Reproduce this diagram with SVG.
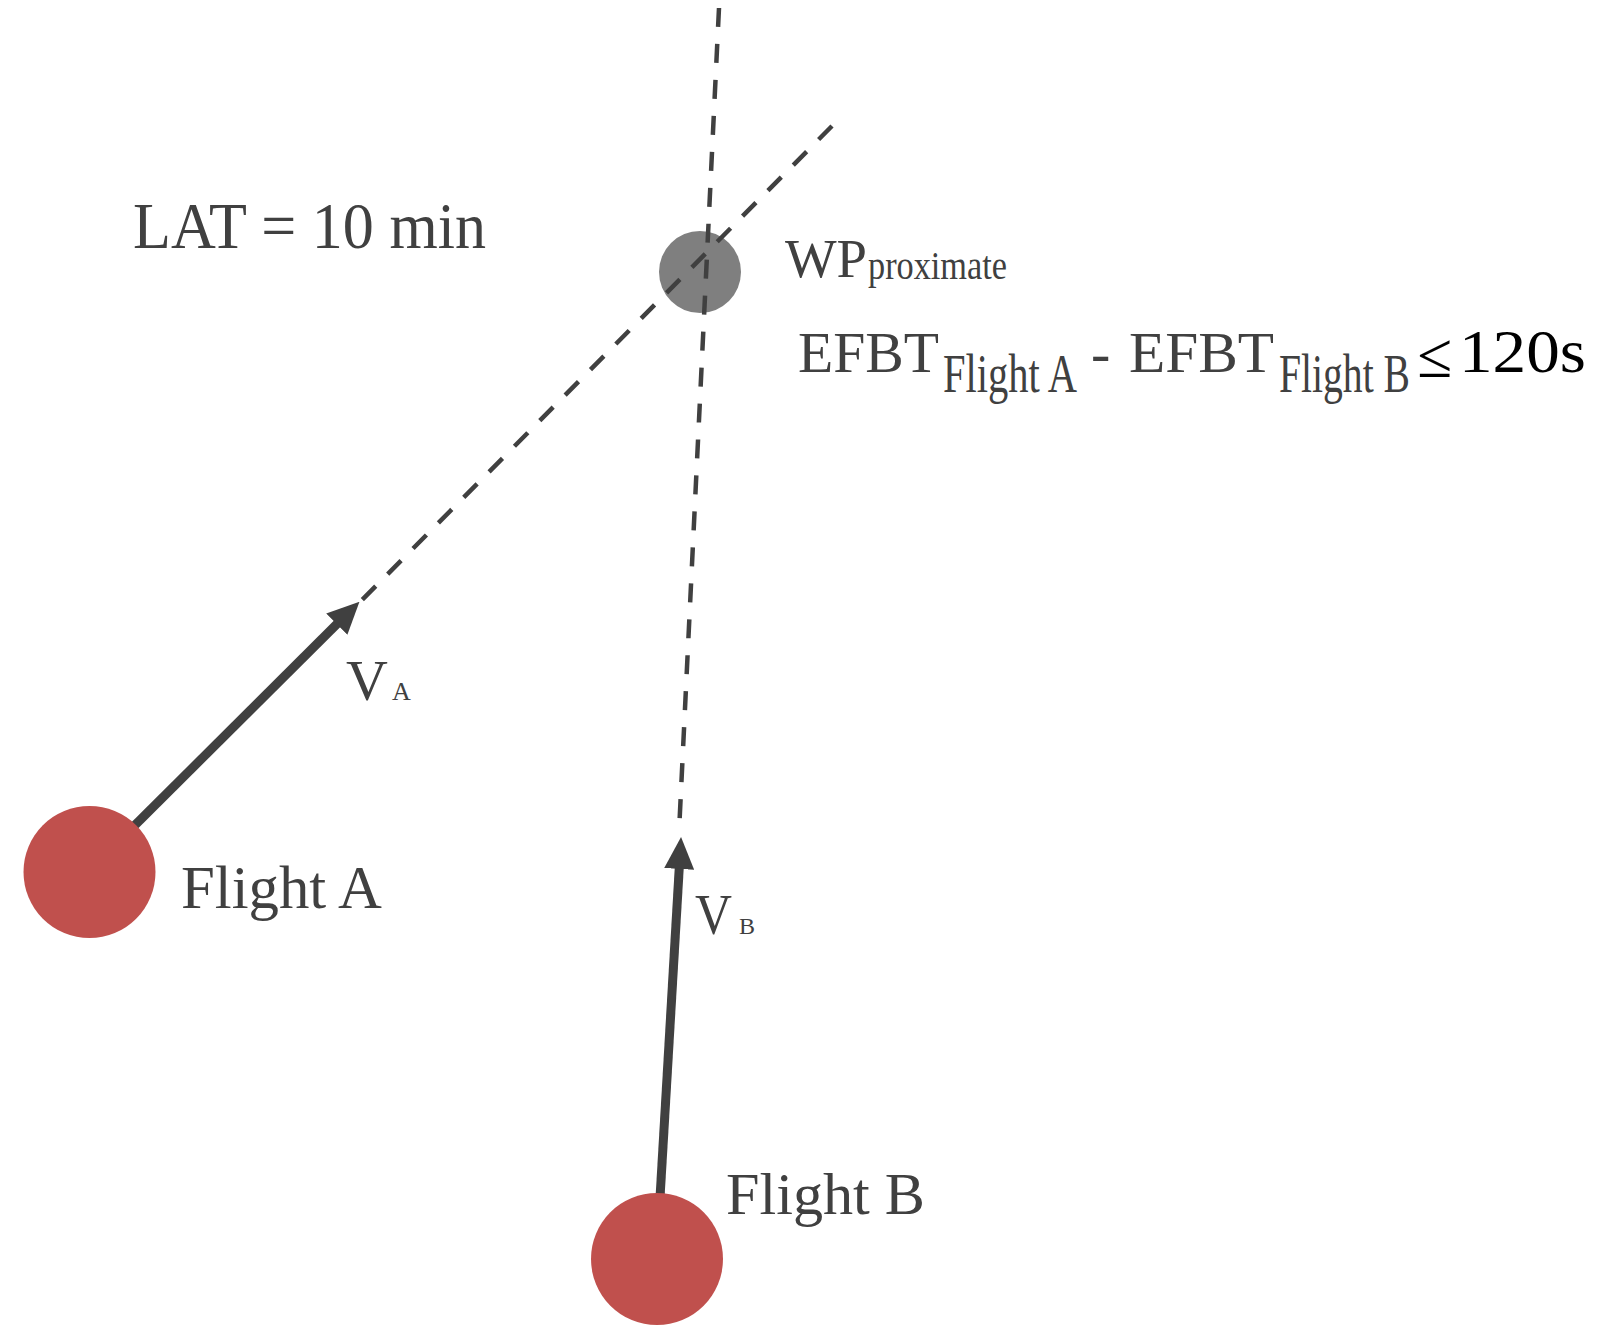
<svg xmlns="http://www.w3.org/2000/svg" width="1602" height="1341" viewBox="0 0 1602 1341">
<style>
  text { font-family: "Liberation Serif", "Times New Roman", serif; fill: #404040; }
  .dash { fill: none; stroke: #404040; stroke-width: 4.5; stroke-dasharray: 19 17; }
  .vec { fill: none; stroke: #404040; stroke-width: 9; }
  .flight { fill: #C0504D; }
  .wp { fill: #7F7F7F; }
  .blk { fill: #000000; }
</style>
<defs>
  <marker id="head" markerUnits="userSpaceOnUse" markerWidth="32" markerHeight="32" viewBox="0 0 32 30" refX="2" refY="15" orient="auto">
    <path d="M0,0 L32,15 L0,30 Z" fill="#404040"/>
  </marker>
</defs>
<rect width="1602" height="1341" fill="#ffffff"/>

<g id="wp-node">
  <circle class="wp" cx="700" cy="272" r="41"/>
</g>

<g id="connectors">
  <path class="dash" d="M719,8 L679,832"/>
  <path class="dash" d="M832,126 L360,602"/>
  <path class="vec" d="M110,850 L338.2,622.8" marker-end="url(#head)"/>
  <path class="vec" d="M659,1215 L679.3,867" marker-end="url(#head)"/>
</g>

<g id="flight-a">
  <circle class="flight" cx="89.5" cy="872" r="66"/>
  <text x="181" y="908" font-size="61" textLength="201" lengthAdjust="spacingAndGlyphs">Flight A</text>
</g>

<g id="flight-b">
  <circle class="flight" cx="657" cy="1259" r="66"/>
  <text x="726" y="1214" font-size="60" textLength="199" lengthAdjust="spacingAndGlyphs">Flight B</text>
</g>

<g id="label-va">
  <text x="346" y="700" font-size="58">V</text>
  <text x="392" y="700" font-size="26">A</text>
</g>

<g id="label-vb">
  <text x="695" y="934" font-size="58" textLength="37" lengthAdjust="spacingAndGlyphs">V</text>
  <text x="739" y="934" font-size="24">B</text>
</g>

<g id="label-lat">
  <text x="133" y="248" font-size="66" textLength="353" lengthAdjust="spacingAndGlyphs">LAT = 10 min</text>
</g>

<g id="label-wp">
  <text x="785" y="277" font-size="54" textLength="82" lengthAdjust="spacingAndGlyphs">WP</text>
  <text x="868" y="279" font-size="40" textLength="139" lengthAdjust="spacingAndGlyphs">proximate</text>
</g>

<g id="label-efbt">
  <text x="798" y="372" font-size="58" textLength="141" lengthAdjust="spacingAndGlyphs">EFBT</text>
  <text x="943" y="392" font-size="54" textLength="134" lengthAdjust="spacingAndGlyphs">Flight A</text>
  <text x="1091" y="372" font-size="58">-</text>
  <text x="1129" y="372" font-size="58" textLength="145" lengthAdjust="spacingAndGlyphs">EFBT</text>
  <text x="1279" y="392" font-size="54" textLength="131" lengthAdjust="spacingAndGlyphs">Flight B</text>
  <text class="blk" x="1417" y="377" font-size="64" textLength="35" lengthAdjust="spacingAndGlyphs">≤</text>
  <text class="blk" x="1459" y="372" font-size="61" textLength="127" lengthAdjust="spacingAndGlyphs">120s</text>
</g>
</svg>
